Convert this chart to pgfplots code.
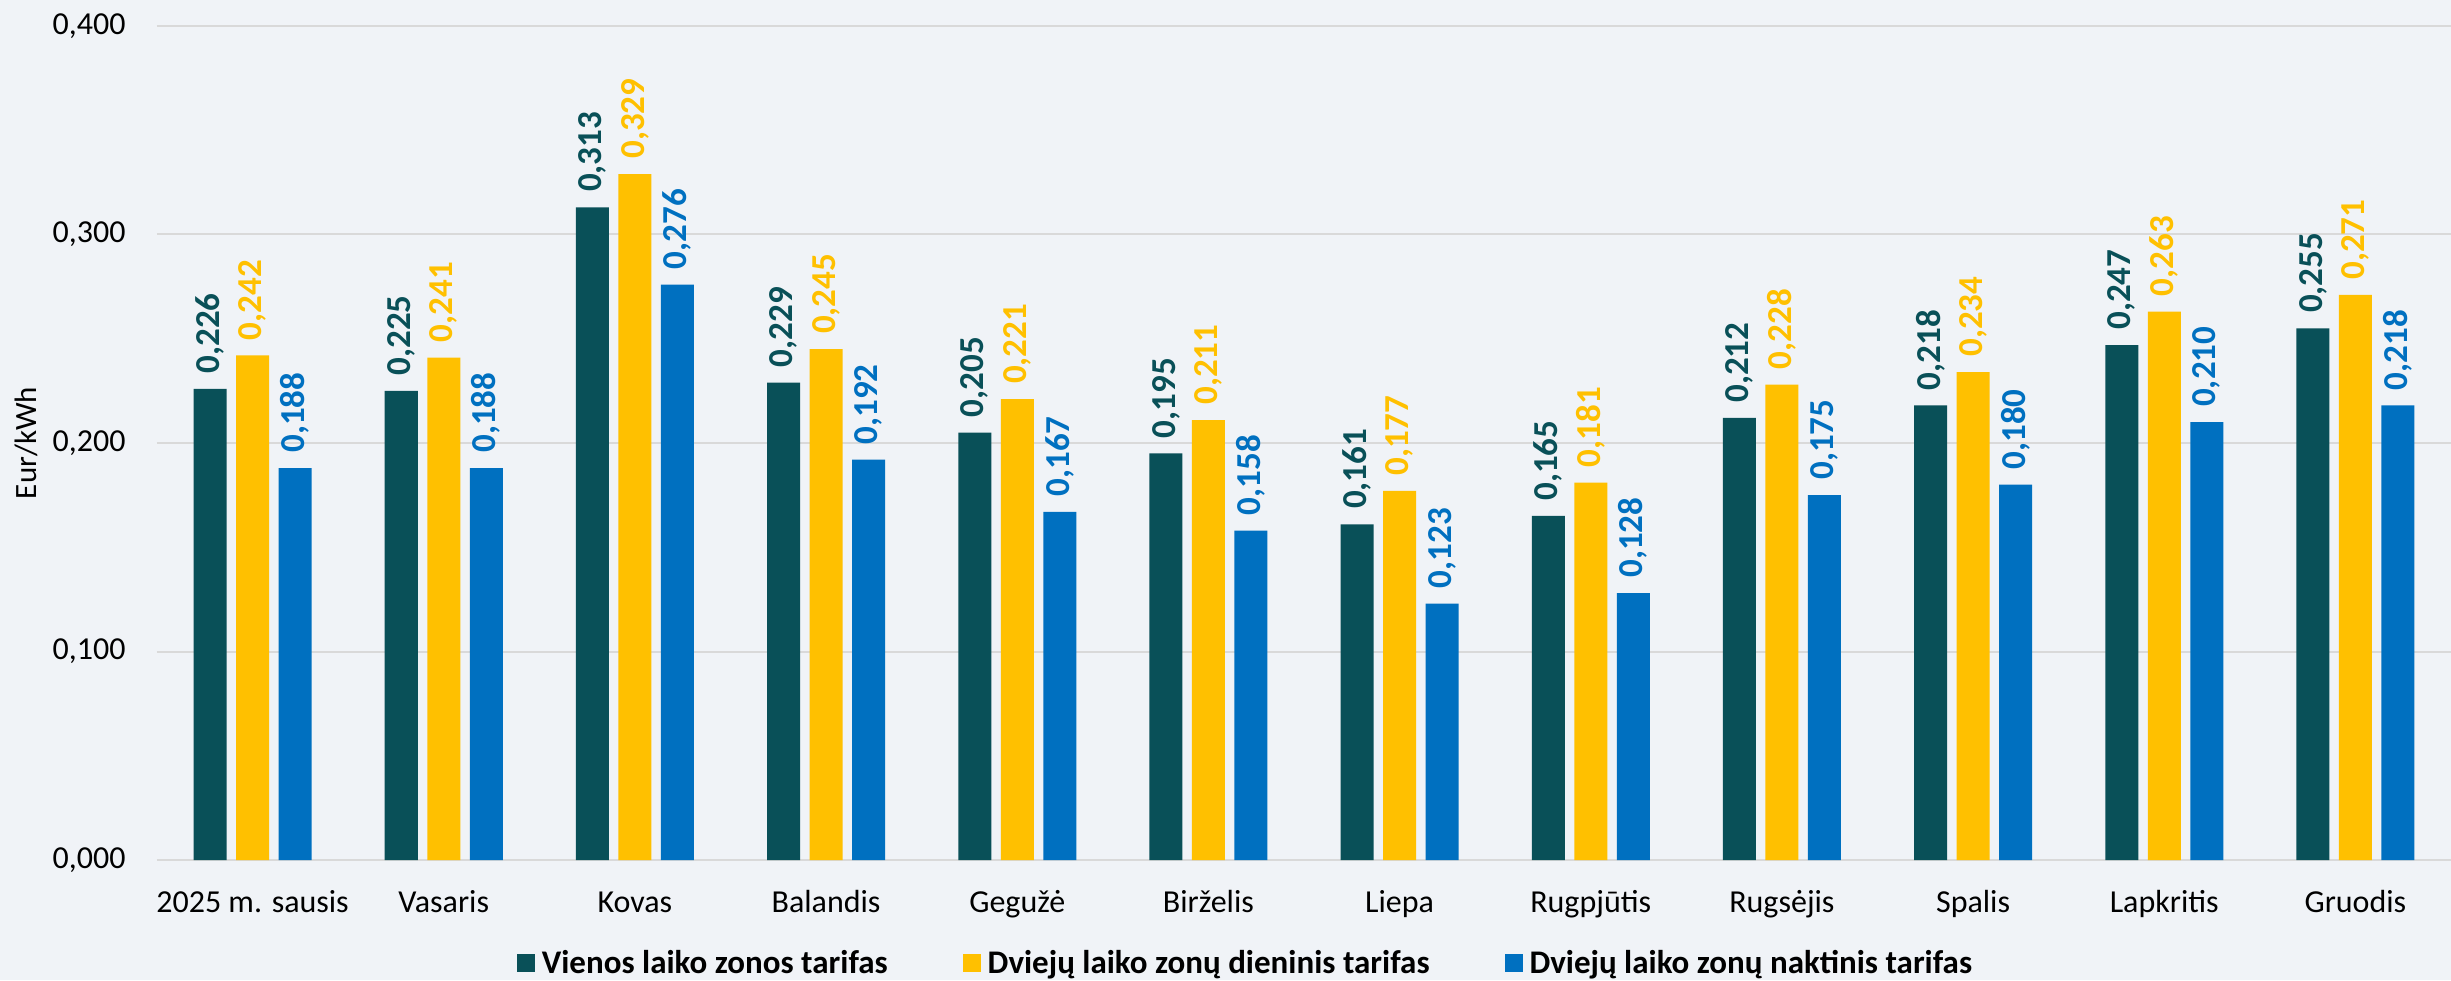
\documentclass[border=0pt]{standalone}
\usepackage{fontspec}
\setmainfont{Carlito}
\usepackage{pgfplots}
\pgfplotsset{compat=1.18}
\definecolor{bg}{HTML}{F0F3F7}
\definecolor{cA}{HTML}{095058}
\definecolor{cB}{HTML}{FFC000}
\definecolor{cC}{HTML}{0070C0}
\definecolor{gridc}{HTML}{D9D9D9}
\begin{document}
\begin{tikzpicture}
\fill[bg] (-78.5pt,-60pt) rectangle (1147pt,430pt);
\begin{axis}[
  at={(0,0)}, anchor=south west,
  scale only axis, width=1147pt, height=417pt,
  ybar=4.75pt, bar width=16.5pt,
  xmin=-0.5, xmax=11.5, ymin=0, ymax=0.4,
  enlargelimits=false, clip=false,
  /pgf/number format/assume math mode=true,
  xtick=data,
  xticklabels={2025 m. sausis,Vasaris,Kovas,Balandis,Gegužė,Birželis,Liepa,Rugpjūtis,Rugsėjis,Spalis,Lapkritis,Gruodis},
  ytick={0,0.1,0.2,0.3,0.4},
  yticklabel={\pgfmathprintnumber[fixed,fixed zerofill,precision=3,use comma]{\tick}},
  major tick length=0pt,
  axis line style={draw=none},
  ymajorgrids, grid style={gridc, line width=1pt},
  xticklabel style={font=\fontsize{16pt}{19pt}\selectfont, anchor=base, yshift=-26pt, inner sep=0pt},
  yticklabel style={font=\fontsize{16pt}{19pt}\selectfont, anchor=east, xshift=-15.5pt, inner sep=0pt},
  ylabel={Eur/kWh},
  ylabel style={font=\fontsize{15.5pt}{19pt}\selectfont, at={(axis description cs:-0.0571,0.5)}, anchor=center},
  nodes near coords={\pgfmathprintnumber[fixed,fixed zerofill,precision=3,use comma]{\pgfplotspointmeta}},
  every node near coord/.append style={rotate=90, anchor=west, font=\bfseries\fontsize{17.5pt}{20pt}\selectfont, inner xsep=7.5pt, inner ysep=0pt},
  legend columns=3,
  legend style={draw=none, fill=none, at={(axis description cs:0.4747,0)}, anchor=center, yshift=-51.5pt,
    font=\bfseries\fontsize{16.5pt}{19pt}\selectfont,
    nodes={inner xsep=1.5pt},
    /tikz/every odd column/.append style={column sep=2pt},
    /tikz/every even column/.append style={column sep=36pt}},
  legend image code/.code={\fill[#1] (0pt,-4.5pt) rectangle (9pt,4.5pt);},
]
\addplot[fill=cA, draw=none, every node near coord/.append style={text=cA}] coordinates {
(0,0.226) (1,0.225) (2,0.313) (3,0.229) (4,0.205) (5,0.195) (6,0.161) (7,0.165) (8,0.212) (9,0.218) (10,0.247) (11,0.255)};
\addplot[fill=cB, draw=none, every node near coord/.append style={text=cB}] coordinates {
(0,0.242) (1,0.241) (2,0.329) (3,0.245) (4,0.221) (5,0.211) (6,0.177) (7,0.181) (8,0.228) (9,0.234) (10,0.263) (11,0.271)};
\addplot[fill=cC, draw=none, every node near coord/.append style={text=cC}] coordinates {
(0,0.188) (1,0.188) (2,0.276) (3,0.192) (4,0.167) (5,0.158) (6,0.123) (7,0.128) (8,0.175) (9,0.180) (10,0.210) (11,0.218)};
\legend{Vienos laiko zonos tarifas,Dviejų laiko zonų dieninis tarifas,Dviejų laiko zonų naktinis tarifas}
\end{axis}
\pgfresetboundingbox
\useasboundingbox (-78.5pt,-60pt) rectangle (1147pt,430pt);
\end{tikzpicture}
\end{document}
